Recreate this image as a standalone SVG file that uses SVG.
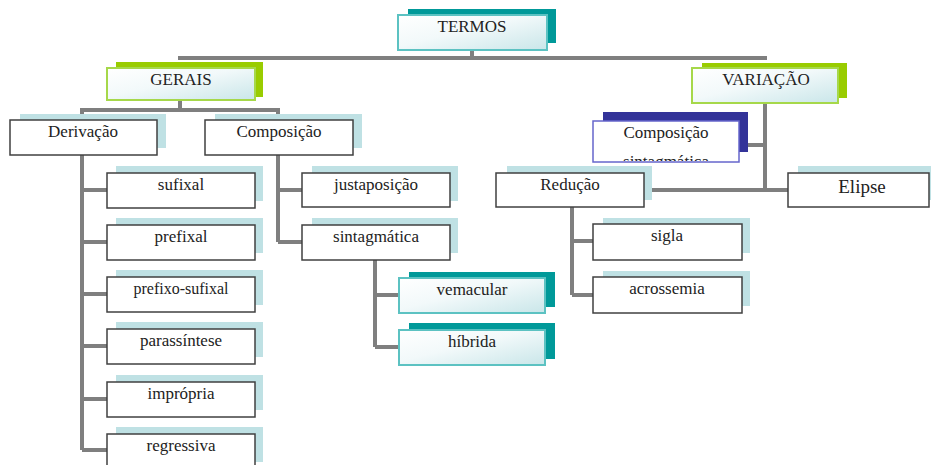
<svg xmlns="http://www.w3.org/2000/svg" width="931" height="465" viewBox="0 0 931 465">
<defs>
<linearGradient id="gfill" x1="0" y1="0" x2="1" y2="1">
<stop offset="0" stop-color="#ffffff"/>
<stop offset="0.45" stop-color="#f2f9fa"/>
<stop offset="1" stop-color="#c9e6e9"/>
</linearGradient>
<clipPath id="clipCS"><rect x="594" y="122" width="144" height="39"/></clipPath>
</defs>
<style>
.bg{fill:#bfe1e4}
.fr{fill:#ffffff;stroke:#404040;stroke-width:1.5}
.t{font-family:"Liberation Serif","DejaVu Serif","Times New Roman",serif;font-size:17px;fill:#222;text-anchor:middle}
.con{fill:none;stroke:#7f7f7f;stroke-width:4}
.teal{fill:#009999}
.green{fill:#99cc00}
.navy{fill:#333399}
.frT{fill:url(#gfill);stroke:#5cc2c2;stroke-width:2}
.frG{fill:url(#gfill);stroke:#a6d84a;stroke-width:2}
.frN{fill:#ffffff;stroke:#6666cc;stroke-width:1.5}
</style>
<g id="connectors" class="con">
<path d="M472,50 V58 M178,58 H767"/>
<path d="M180,100 V110 M80,110 H280 M82,110 V120 M278,110 V120"/>
<path d="M82,155 V450 M82,190 H107 M82,242 H107 M82,294 H107 M82,346 H107 M82,399 H107 M82,450 H107"/>
<path d="M278,155 V242 M278,190 H302 M278,242 H302"/>
<path d="M375,260 V347 M375,295 H399 M375,347 H399"/>
<path d="M765,103 V190 M739,145 H765 M644,190 H788"/>
<path d="M572,207 V295 M572,241 H593 M572,295 H593"/>
</g>
<g id="n-termos">
<rect class="teal" x="408" y="9" width="148" height="34"/>
<rect class="frT" x="398" y="15" width="149" height="35"/>
<text class="t" x="472" y="32">TERMOS</text>
</g>
<g id="n-gerais">
<rect class="green" x="116" y="62" width="147" height="35"/>
<rect class="frG" x="107" y="68" width="148" height="32"/>
<text class="t" x="181" y="85">GERAIS</text>
</g>
<g id="n-variacao">
<rect class="green" x="702" y="63" width="145" height="35"/>
<rect class="frG" x="692" y="68" width="146" height="35"/>
<text class="t" x="766" y="85">VARIAÇÃO</text>
</g>
<g id="n-derivacao">
<rect class="bg" x="20" y="114" width="146" height="34"/>
<rect class="fr" x="10" y="120" width="147" height="35"/>
<text class="t" x="83" y="137">Derivação</text>
</g>
<g id="n-composicao">
<rect class="bg" x="215" y="114" width="147" height="34"/>
<rect class="fr" x="205" y="120" width="148" height="35"/>
<text class="t" x="279" y="137">Composição</text>
</g>
<g id="n-comp-sint">
<rect class="navy" x="603" y="112" width="145" height="40"/>
<rect class="frN" x="593" y="121" width="146" height="41"/>
<g clip-path="url(#clipCS)">
<text class="t" x="666" y="138">Composição</text>
<text class="t" x="666" y="167">sintagmática</text>
</g>
</g>
<g id="n-sufixal">
<rect class="bg" x="116" y="166" width="147" height="35"/>
<rect class="fr" x="107" y="173" width="148" height="35"/>
<text class="t" x="181" y="190">sufixal</text>
</g>
<g id="n-prefixal">
<rect class="bg" x="116" y="218" width="147" height="35"/>
<rect class="fr" x="107" y="225" width="148" height="35"/>
<text class="t" x="181" y="242">prefixal</text>
</g>
<g id="n-prefixo-sufixal">
<rect class="bg" x="116" y="270" width="147" height="35"/>
<rect class="fr" x="107" y="277" width="148" height="35"/>
<text class="t" x="181" y="294" style="font-size:16px">prefixo-sufixal</text>
</g>
<g id="n-parassintese">
<rect class="bg" x="116" y="322" width="147" height="35"/>
<rect class="fr" x="107" y="329" width="148" height="35"/>
<text class="t" x="181" y="346">parassíntese</text>
</g>
<g id="n-impropria">
<rect class="bg" x="116" y="375" width="147" height="35"/>
<rect class="fr" x="107" y="382" width="148" height="35"/>
<text class="t" x="181" y="399">imprópria</text>
</g>
<g id="n-regressiva">
<rect class="bg" x="116" y="427" width="147" height="35"/>
<rect class="fr" x="107" y="434" width="148" height="35"/>
<text class="t" x="181" y="451">regressiva</text>
</g>
<g id="n-justaposicao">
<rect class="bg" x="312" y="166" width="146" height="35"/>
<rect class="fr" x="302" y="173" width="148" height="34"/>
<text class="t" x="376" y="190">justaposição</text>
</g>
<g id="n-sintagmatica">
<rect class="bg" x="312" y="218" width="146" height="35"/>
<rect class="fr" x="302" y="225" width="148" height="35"/>
<text class="t" x="376" y="242">sintagmática</text>
</g>
<g id="n-vernacular">
<rect class="teal" x="409" y="272" width="146" height="35"/>
<rect class="frT" x="399" y="278" width="146" height="35"/>
<text class="t" x="472" y="295">vemacular</text>
</g>
<g id="n-hibrida">
<rect class="teal" x="409" y="323" width="146" height="36"/>
<rect class="frT" x="399" y="330" width="146" height="35"/>
<text class="t" x="472" y="347">híbrida</text>
</g>
<g id="n-reducao">
<rect class="bg" x="507" y="166" width="145" height="34"/>
<rect class="fr" x="496" y="173" width="148" height="34"/>
<text class="t" x="570" y="190">Redução</text>
</g>
<g id="n-elipse">
<rect class="bg" x="798" y="166" width="133" height="34"/>
<rect class="fr" x="788" y="173" width="141" height="34"/>
<text class="t" x="862" y="193" style="font-size:19px">Elipse</text>
</g>
<g id="n-sigla">
<rect class="bg" x="603" y="218" width="147" height="35"/>
<rect class="fr" x="593" y="224" width="149" height="36"/>
<text class="t" x="667" y="241">sigla</text>
</g>
<g id="n-acrossemia">
<rect class="bg" x="603" y="271" width="147" height="35"/>
<rect class="fr" x="593" y="277" width="149" height="36"/>
<text class="t" x="667" y="294">acrossemia</text>
</g>
</svg>
